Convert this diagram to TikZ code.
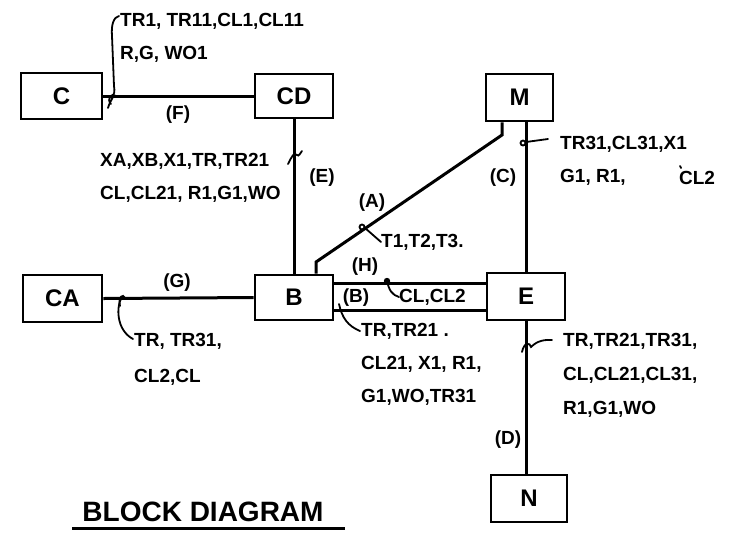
\documentclass[tikz,border=0pt]{standalone}
\usepackage{fontspec}
\setmainfont{Liberation Sans}
\begin{document}
\begin{tikzpicture}[x=1pt,y=-1pt,
 box/.style={draw, line width=2.8pt, inner sep=0, font=\fontsize{24}{28}\selectfont\bfseries},
 wire/.style={line width=3pt},
 lead/.style={line width=1.8pt, line cap=round},
 lbl/.style={inner sep=0, font=\fontsize{19}{33}\selectfont\bfseries, align=left},
 tag/.style={inner sep=0, font=\fontsize{19}{22}\selectfont\bfseries}]
\useasboundingbox[fill=white] (0,0) rectangle (735,539);

% boxes
\node[box, minimum width=81, minimum height=46] (C)  at (61.5,96)   {C};
\node[box, minimum width=78, minimum height=44] (CD) at (294,96)    {CD};
\node[box, minimum width=67, minimum height=47] (M)  at (519.5,97.5){M};
\node[box, minimum width=79, minimum height=47] (CA) at (62.5,298.5){CA};
\node[box, minimum width=78, minimum height=45] (B)  at (294,297.5) {B};
\node[box, minimum width=78, minimum height=47] (E)  at (526,296.5) {E};
\node[box, minimum width=76, minimum height=47] (N)  at (529,498.5) {N};

% helper coordinates
\coordinate (a1) at (316,262);
\coordinate (a2) at (502,135);
\coordinate (h1) at (400,283);
\coordinate (h2) at (400,310);

% wires
\draw[wire] (C.east) -- (CD.west);
\draw[wire] (CD.south) -- (B.north);
\draw[wire] (B.north -| a1) -- (a1) -- (a2) -- (M.south -| a2);
\draw[wire] (E.north) -- (E.north |- M.south);
\draw[wire] (CA.east) -- (B.west);
\draw[wire] (B.east |- h1) -- (E.west |- h1);
\draw[wire] (B.east |- h2) -- (E.west |- h2);
\draw[wire] (E.south) -- (E.south |- N.north);

% wire tags
\node[tag] (tF) at (178,115) {(F)};
\node[tag] (tE) at (322,178) {(E)};
\node[tag] (tA) at (372,203) {(A)};
\node[tag] (tC) at (503,178) {(C)};
\node[tag] (tH) at (365,267) {(H)};
\node[tag] (tB) at (356,298) {(B)};
\node[tag] (tG) at (177,283) {(G)};
\node[tag] (tD) at (508,440) {(D)};

% labels
\node[lbl, anchor=north west] (lF) at (120,13) {TR1, TR11,CL1,CL11\\R,G, WO1};
\node[lbl, anchor=north west] (lE) at (100,153) {XA,XB,X1,TR,TR21\\CL,CL21, R1,G1,WO};
\node[lbl, anchor=west] (lA) at (381,242) {T1,T2,T3.};
\node[lbl, anchor=north west] (lC) at (560,136) {TR31,CL31,X1\\G1, R1,};
\node[lbl] (lC2) at (697,178) {CL2};
\node[lbl, anchor=west] (lH) at (399,297) {CL,CL2};
\node[lbl, anchor=north west] (lB) at (361,323) {TR,TR21 .\\CL21, X1, R1,\\G1,WO,TR31};
\node[lbl, anchor=north west, font=\fontsize{19}{36}\selectfont\bfseries] (lG) at (134,333) {TR, TR31,\\CL2,CL};
\node[lbl, anchor=north west, font=\fontsize{19}{34}\selectfont\bfseries] (lD) at (563,333) {TR,TR21,TR31,\\CL,CL21,CL31,\\R1,G1,WO};

% leaders
\coordinate (fl0) at (108,108);
\coordinate (fl1) at (119,16);
\draw[lead] (fl0) .. controls (110,100) and (116,96) .. (114,86) -- (112,36) .. controls (111,24) and (114,17) .. (fl1);
\draw[lead] (111,104) .. controls (106,99) and (112,92) .. (116,96);
\coordinate (el0) at (288,164);
\draw[lead] (el0) .. controls (292,156) and (294,152) .. (297,155) .. controls (299,157) and (300,153) .. (302,151);
\coordinate (al0) at (362,227);
\draw[lead] (al0) circle (2.5);
\draw[lead] (al0) ++(3,1) -- (lA.west);
\coordinate (cl0) at (523,143);
\draw[lead] (cl0) circle (2.5);
\draw[lead] (cl0) ++(3,-1) -- (548,139);
\coordinate (hl0) at (387,281);
\fill (hl0) circle (3.2);
\draw[lead] (hl0) .. controls (389,290) and (392,295) .. (lH.west);
\coordinate (bl0) at (339,304);
\draw[lead] (bl0) .. controls (342,318) and (348,326) .. (360,331);
\coordinate (gl0) at (122,297);
\draw[lead] (gl0) .. controls (116,306) and (116,330) .. (133,339);
\draw[lead] (120,306) .. controls (118,297) and (123,293) .. (125,298);
\coordinate (dl0) at (522,352);
\draw[lead] (dl0) .. controls (524,342) and (530,342) .. (531,347) .. controls (534,344) and (540,339) .. (552,340);
\draw[lead] (680,166) -- (681,168);

% title
\node[inner sep=0, font=\fontsize{28}{32}\selectfont\bfseries] (title) at (203,512) {BLOCK DIAGRAM};
\coordinate (u0) at (72,528);
\coordinate (u1) at (345,528);
\draw[wire] (u0) -- (u1);
\end{tikzpicture}
\end{document}
